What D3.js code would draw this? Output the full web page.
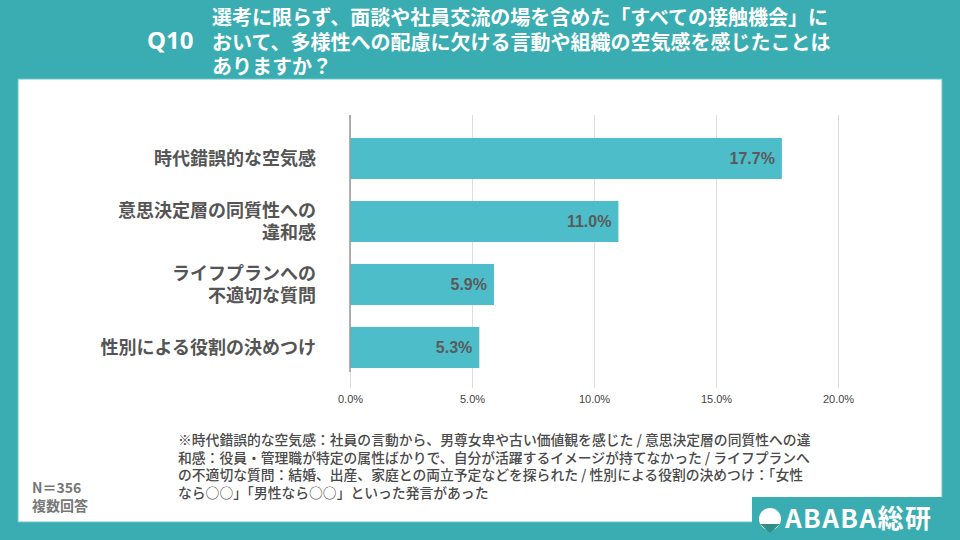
<!DOCTYPE html>
<html>
<head>
<meta charset="utf-8">
<script src="https://cdn.jsdelivr.net/npm/d3@7"></script>
<style>
  body { margin: 0; background: #fff; }
  svg { display: block; font-family: "Noto Sans CJK JP", "Noto Sans", sans-serif; }
</style>
</head>
<body>
<div id="chart"></div>
<script>
// data
const categories = [
  ["時代錯誤的な空気感"],
  ["意思決定層の同質性への", "違和感"],
  ["ライフプランへの", "不適切な質問"],
  ["性別による役割の決めつけ"]
];
const values = [17.7, 11.0, 5.9, 5.3];
const ticks = [0, 5, 10, 15, 20];

const titleLines = [
  "選考に限らず、面談や社員交流の場を含めた「すべての接触機会」に",
  "おいて、多様性への配慮に欠ける言動や組織の空気感を感じたことは",
  "ありますか？"
];
const noteLines = [
  "※時代錯誤的な空気感：社員の言動から、男尊女卑や古い価値観を感じた / 意思決定層の同質性への違",
  "和感：役員・管理職が特定の属性ばかりで、自分が活躍するイメージが持てなかった / ライフプランへ",
  "の不適切な質問：結婚、出産、家庭との両立予定などを探られた / 性別による役割の決めつけ：「女性",
  "なら○○」「男性なら○○」といった発言があった"
];

let width = 960, height = 540,
    margin = ({ top: 115, right: 122, bottom: 152, left: 350 });

const teal = "#39adb2";
const svg = d3.select("#chart").append("svg")
  .attr("width", width).attr("height", height);

// background + white panel
svg.append("rect").attr("width", width).attr("height", height).attr("fill", teal);
svg.append("rect").attr("x", 18).attr("y", 79).attr("width", 924).attr("height", 443)
  .attr("fill", "#fff").attr("stroke", "#6cc7cb").attr("stroke-width", 1);

// title
svg.append("text").attr("x", 147).attr("y", 49)
  .attr("fill", "#fff").attr("font-size", 24).attr("font-weight", 700)
  .attr("font-family", "'Noto Sans', sans-serif")
  .text("Q10");
svg.append("g").selectAll("text").data(titleLines).join("text")
  .attr("x", 212).attr("y", (d, i) => 25 + i * 24.5)
  .attr("fill", "#fff").attr("font-size", 20).attr("font-weight", 700)
  .text(d => d);

let x = d3.scaleLinear().domain([0, 20]).range([margin.left, width - margin.right]);
let y = d3.scaleBand().domain(d3.range(categories.length))
  .range([127.3, 378.7]).paddingInner(0.349).paddingOuter(0.17);

// grid
svg.append("g")
  .attr("transform", `translate(0,${height - margin.bottom})`)
  .call(d3.axisBottom(x).tickValues(ticks).tickFormat(d => d.toFixed(1) + "%")
    .tickSize(-(height - margin.bottom - margin.top)).tickPadding(7))
  .call(g => g.select(".domain").remove())
  .call(g => g.selectAll(".tick line").attr("stroke", "#ddd"))
  .call(g => g.selectAll(".tick text").attr("fill", "#444").attr("font-size", 11)
    .attr("font-family", "'Liberation Sans', Arial, sans-serif"));

// bars
svg.append("g").selectAll("rect").data(values).join("rect")
  .attr("x", x(0))
  .attr("y", (d, i) => y(i))
  .attr("width", d => x(d) - x(0))
  .attr("height", y.bandwidth())
  .attr("fill", "#4ebdca");

// zero line
svg.append("line").attr("x1", x(0)).attr("x2", x(0)).attr("y1", margin.top).attr("y2", 372)
  .attr("stroke", "#999").attr("stroke-width", 1.5);

// value labels
svg.append("g").selectAll("text").data(values).join("text")
  .attr("x", d => x(d) - 7)
  .attr("y", (d, i) => y(i) + y.bandwidth() / 2)
  .attr("dy", "0.35em").attr("text-anchor", "end")
  .attr("fill", "#5a5a5a").attr("font-size", 16).attr("font-weight", 700)
  .attr("font-family", "'Liberation Sans', Arial, sans-serif")
  .text(d => d.toFixed(1) + "%");

// category labels
const cat = svg.append("g").selectAll("text").data(categories).join("text")
  .attr("text-anchor", "end")
  .attr("fill", "#555").attr("font-size", 18).attr("font-weight", 700)
  .attr("y", (d, i) => y(i) + y.bandwidth() / 2 - (d.length - 1) * 11);
cat.selectAll("tspan").data(d => d).join("tspan")
  .attr("x", 316).attr("dy", (d, i) => i === 0 ? "0.35em" : 22)
  .text(d => d);

// footnote
svg.append("g").selectAll("text").data(noteLines).join("text")
  .attr("x", 178).attr("y", (d, i) => 445 + i * 17.7)
  .attr("fill", "#4a4a4a").attr("font-size", 13.8).attr("font-weight", 500)
  .text(d => d);

svg.append("text").attr("x", 32).attr("y", 493)
  .attr("fill", "#777").attr("font-size", 14).attr("font-weight", 700)
  .text("N＝356");
svg.append("text").attr("x", 32).attr("y", 511)
  .attr("fill", "#777").attr("font-size", 14).attr("font-weight", 700)
  .text("複数回答");

// logo
const logo = svg.append("g");
logo.append("rect").attr("x", 752).attr("y", 497).attr("width", 198).attr("height", 43).attr("fill", teal);
logo.append("circle").attr("cx", 770).attr("cy", 519).attr("r", 11).attr("fill", "#fff");
logo.append("path").attr("d", "M760,524 L780,524 L770,533 Z").attr("fill", "#2f8f88");
logo.append("text").attr("x", 785).attr("y", 528)
  .attr("fill", "#fff").attr("font-size", 26).attr("font-weight", 700)
  .attr("textLength", 146)
  .text("ABABA総研");
</script>
</body>
</html>
